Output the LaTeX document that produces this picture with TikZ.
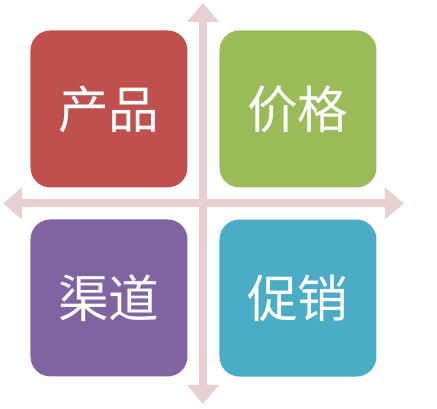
\documentclass[tikz,border=0pt]{standalone}
\usepackage{fontspec}
\newfontfamily\cjk{Noto Sans CJK SC}
\usepackage{tikz}
\usetikzlibrary{matrix,arrows.meta}
\definecolor{prodred}{HTML}{C0504D}
\definecolor{pricegreen}{HTML}{9BBB59}
\definecolor{placepurple}{HTML}{8064A2}
\definecolor{promoblue}{HTML}{4BACC6}
\definecolor{axispink}{HTML}{E8D0D0}

\begin{document}
\begin{tikzpicture}[x=0.75pt,y=-0.75pt,
  axis/.style={draw=axispink,line width=6pt,{Triangle[width=23.25pt,length=14.25pt]}-{Triangle[width=23.25pt,length=14.25pt]}},
  quad/.style={rounded corners=15pt,minimum width=117.75pt,minimum height=117.75pt,inner sep=0pt,text=white,font=\cjk\fontsize{38}{42}\selectfont}]
  \useasboundingbox (0,0) rectangle (437,409);
  \coordinate (top) at (203,3);
  \coordinate (bottom) at (203,404);
  \coordinate (left) at (3,203.5);
  \coordinate (right) at (404,203.5);
  \draw[axis] (top) -- (bottom);
  \draw[axis] (left) -- (right);
%  four boxes
  \matrix (m) at (203.5,203.5) [matrix of nodes, row sep=24pt, column sep=24pt, nodes={quad}]{
	|[fill=prodred]| 产品 & |[fill=pricegreen]| 价格 \\
	|[fill=placepurple]| 渠道 & |[fill=promoblue]| 促销 \\
  };
\end{tikzpicture}
\end{document}
